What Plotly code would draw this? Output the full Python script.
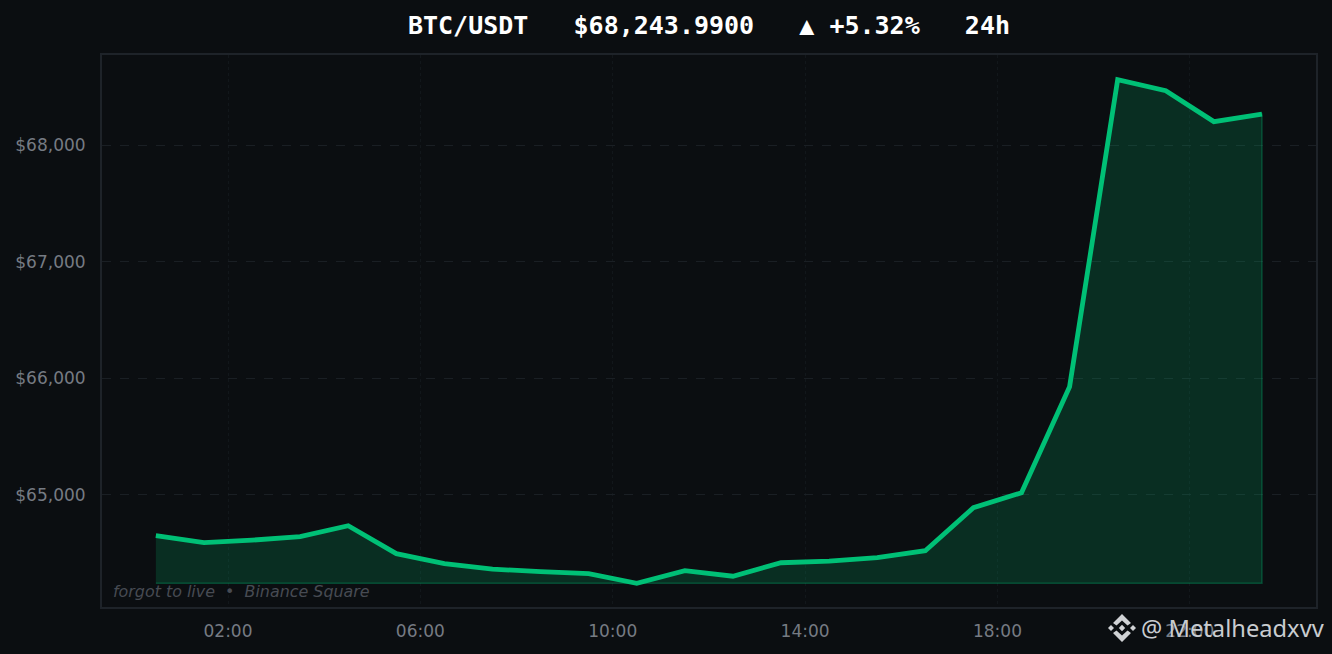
import plotly.graph_objects as go

hours = [0.5, 1.5, 2.5, 3.5, 4.5, 5.5, 6.5, 7.5, 8.5, 9.5, 10.5, 11.5,
         12.5, 13.5, 14.5, 15.5, 16.5, 17.5, 18.5, 19.5, 20.5, 21.5, 22.5, 23.5]
prices = [64648, 64588, 64610, 64640, 64734, 64494, 64408, 64361, 64339, 64322, 64240, 64348,
          64300, 64416, 64429, 64459, 64519, 64888, 65017, 65927, 68562, 68468, 68202, 68266]
x_ticks = [2, 6, 10, 14, 18, 22]
x_labels = ["02:00", "06:00", "10:00", "14:00", "18:00", "22:00"]
y_ticks = [65000, 66000, 67000, 68000]
y_labels = ["$65,000", "$66,000", "$67,000", "$68,000"]
title = "BTC/USDT   $68,243.9900   ▲ +5.32%   24h"
credit = "forgot to live  •  Binance Square"
handle = "@ Metalheadxvv"

W, H = 1332, 654
L, R, T, B = 102, 1316, 55, 607
BG = "#0b0e11"
GREEN = "#00c076"


def px(x):
    return (x - L) / (R - L)


def py(y):
    return (B - y) / (B - T)


base = min(prices)
fig = go.Figure()
fig.add_trace(go.Scatter(
    x=hours + hours[::-1], y=prices + [base] * len(hours), mode="lines",
    fill="toself", fillcolor="rgba(0,192,118,0.18)",
    line=dict(color="rgba(0,192,118,0.30)", width=1.5), hoverinfo="skip", showlegend=False))
fig.add_trace(go.Scatter(
    x=hours, y=prices, mode="lines", line=dict(color=GREEN, width=4.8), showlegend=False))

fig.update_layout(
    width=W, height=H, autosize=False,
    margin=dict(l=L, r=W - R, t=T, b=H - B),
    paper_bgcolor=BG, plot_bgcolor=BG,
    font=dict(family="DejaVu Sans", color="#767b83", size=16),
    title=dict(text=f"<b>{title}</b>", x=709 / W, xanchor="center", y=1 - 25 / H, yanchor="middle",
               font=dict(family="DejaVu Sans Mono", size=25, color="#ffffff")),
    xaxis=dict(range=[-0.620, 24.624], tickmode="array", tickvals=x_ticks, ticktext=x_labels,
               showgrid=True, gridcolor="#12171b", griddash="dot", gridwidth=1,
               ticks="outside", ticklen=8, tickcolor=BG, zeroline=False, showline=True,
               linecolor="#1e2329", linewidth=2, mirror=True,
               tickfont=dict(size=17, color="#767b83")),
    yaxis=dict(range=[64036, 68774], tickmode="array", tickvals=y_ticks, ticktext=y_labels,
               showgrid=True, gridcolor="#1a1f24", griddash="dash", gridwidth=1,
               ticks="outside", ticklen=11, tickcolor=BG, zeroline=False, showline=True,
               linecolor="#1e2329", linewidth=2, mirror=True,
               tickfont=dict(size=17, color="#767b83")),
    annotations=[
        dict(text=f"<i>{credit}</i>", xref="paper", yref="paper", x=px(111), y=py(591.5),
             xanchor="left", yanchor="middle", showarrow=False,
             font=dict(family="DejaVu Sans", size=15.9, color="#474b53")),
        dict(text=handle, xref="paper", yref="paper", x=px(1139), y=py(628),
             xanchor="left", yanchor="middle", showarrow=False,
             font=dict(family="Noto Sans", size=23.7, color="#c9ccd0")),
    ],
)


def diamond(cx, cy, r):
    return (f"M{px(cx)},{py(cy - r)} L{px(cx + r)},{py(cy)} "
            f"L{px(cx)},{py(cy + r)} L{px(cx - r)},{py(cy)} Z")


LOGO = "#d0d2d5"
cx, cy = 1122, 628
shapes = [diamond(cx, cy, 3.2), diamond(cx - 11, cy, 3), diamond(cx + 11, cy, 3)]
# upper and lower chevrons of the logo
for s in (-1, 1):
    shapes.append(
        f"M{px(cx)},{py(cy + s * 14)} L{px(cx + 9)},{py(cy + s * 5)} L{px(cx + 5.5)},{py(cy + s * 2.5)} "
        f"L{px(cx)},{py(cy + s * 7.5)} L{px(cx - 5.5)},{py(cy + s * 2.5)} L{px(cx - 9)},{py(cy + s * 5)} Z")
for p in shapes:
    fig.add_shape(type="path", path=p, xref="paper", yref="paper",
                  fillcolor=LOGO, line=dict(width=0), layer="above")

fig.write_html("out.html", config={"displayModeBar": False},
               post_script="document.body.style.margin='0';document.body.style.background='#0b0e11';")
